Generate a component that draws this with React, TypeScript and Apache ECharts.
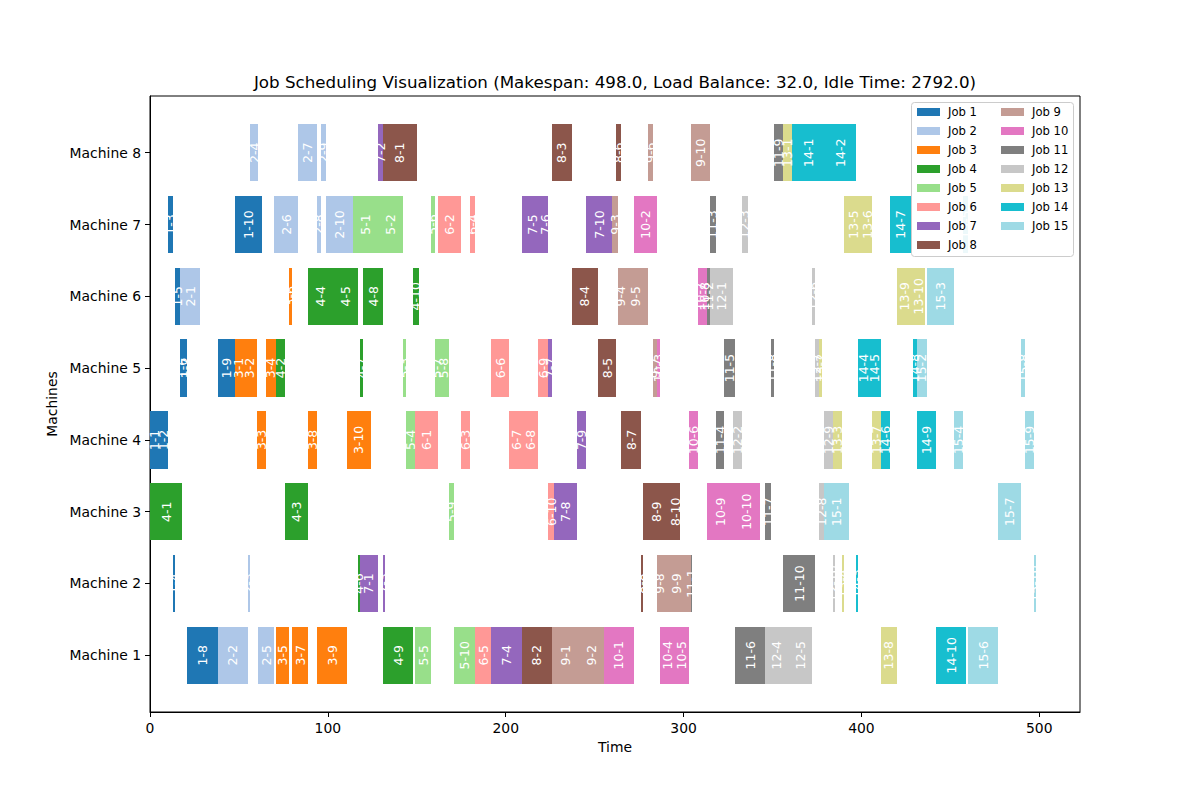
import React, { useEffect, useRef } from 'react';
import * as echarts from 'echarts';

const machineLabels = ['Machine 1', 'Machine 2', 'Machine 3', 'Machine 4', 'Machine 5', 'Machine 6', 'Machine 7', 'Machine 8'];
const jobNames = ['Job 1', 'Job 2', 'Job 3', 'Job 4', 'Job 5', 'Job 6', 'Job 7', 'Job 8', 'Job 9', 'Job 10', 'Job 11', 'Job 12', 'Job 13', 'Job 14', 'Job 15'];
const jobColors = ['#1f77b4', '#aec7e8', '#ff7f0e', '#2ca02c', '#98df8a', '#ff9896', '#9467bd', '#8c564b', '#c49c94', '#e377c2', '#7f7f7f', '#c7c7c7', '#dbdb8d', '#17becf', '#9edae5'];
const xTicks = [0, 100, 200, 300, 400, 500];
const yTicks = [0, 1, 2, 3, 4, 5, 6, 7];
const titleText = 'Job Scheduling Visualization (Makespan: 498.0, Load Balance: 32.0, Idle Time: 2792.0)';

// each operation: [machine, start, end]
type Op = [number, number, number];
const job1: Op[] = [[4, 0, 5], [4, 5, 10], [7, 10, 13], [2, 13, 14], [6, 14, 17], [5, 17, 19], [5, 19, 21], [1, 21, 38], [5, 38, 48], [7, 48, 63]];
const job2: Op[] = [[6, 17, 28], [1, 38, 55], [2, 55, 56], [8, 56, 61], [1, 61, 70], [7, 70, 83], [8, 83, 94], [7, 94, 96], [8, 96, 99], [7, 99, 114]];
const job3: Op[] = [[5, 48, 52], [5, 52, 60], [4, 60, 65], [5, 65, 71], [1, 71, 78], [6, 78, 80], [1, 80, 89], [4, 89, 94], [1, 94, 111], [4, 111, 124]];
const job4: Op[] = [[3, 0, 18], [5, 71, 76], [3, 76, 89], [6, 89, 103], [6, 103, 117], [2, 117, 118], [5, 118, 120], [6, 120, 131], [1, 131, 148], [6, 148, 151]];
const job5: Op[] = [[7, 114, 128], [7, 128, 142], [5, 142, 144], [4, 144, 149], [1, 149, 158], [7, 158, 160], [5, 160, 162], [5, 162, 168], [3, 168, 171], [1, 171, 183]];
const job6: Op[] = [[4, 149, 162], [7, 162, 175], [4, 175, 180], [7, 180, 183], [1, 183, 192], [5, 192, 202], [4, 202, 210], [4, 210, 218], [5, 218, 224], [3, 224, 227]];
const job7: Op[] = [[2, 118, 128], [8, 128, 131], [2, 131, 132], [1, 192, 209], [7, 209, 221], [7, 221, 224], [5, 224, 226], [3, 227, 240], [4, 240, 245], [7, 245, 260]];
const job8: Op[] = [[8, 131, 150], [1, 209, 226], [8, 226, 237], [6, 237, 252], [5, 252, 262], [8, 262, 265], [4, 265, 276], [2, 276, 277], [3, 277, 293], [3, 293, 298]];
const job9: Op[] = [[1, 226, 241], [1, 241, 255], [7, 260, 263], [6, 263, 266], [6, 266, 280], [8, 280, 283], [5, 283, 285], [2, 285, 288], [2, 288, 304], [8, 304, 315]];
const job10: Op[] = [[1, 255, 272], [7, 272, 285], [5, 285, 287], [1, 287, 295], [1, 295, 303], [4, 303, 308], [6, 308, 310], [6, 310, 313], [3, 313, 328], [3, 328, 343]];
const job11: Op[] = [[2, 304, 305], [6, 313, 315], [7, 315, 318], [4, 318, 323], [5, 323, 329], [1, 329, 346], [3, 346, 349], [5, 349, 351], [8, 351, 356], [2, 356, 374]];
const job12: Op[] = [[6, 315, 328], [4, 328, 333], [7, 333, 336], [1, 346, 359], [1, 359, 372], [6, 372, 374], [5, 374, 376], [3, 376, 379], [4, 379, 384], [2, 384, 385]];
const job13: Op[] = [[8, 356, 361], [5, 376, 378], [4, 384, 389], [2, 389, 390], [7, 390, 401], [7, 401, 406], [4, 406, 411], [1, 411, 420], [6, 420, 428], [6, 428, 436]];
const job14: Op[] = [[8, 361, 379], [8, 379, 397], [2, 397, 398], [5, 398, 404], [5, 404, 411], [4, 411, 416], [7, 416, 428], [5, 429, 431], [4, 431, 442], [1, 442, 459]];
const job15: Op[] = [[3, 379, 393], [5, 431, 437], [6, 437, 452], [4, 452, 457], [7, 457, 460], [1, 460, 477], [3, 477, 490], [5, 490, 492], [4, 492, 497], [2, 497, 498]];
const jobs = [job1, job2, job3, job4, job5, job6, job7, job8, job9, job10, job11, job12, job13, job14, job15];

const FONT = 'DejaVu Sans';

export default function App() {
  const ref = useRef<HTMLDivElement>(null);
  useEffect(() => {
    document.body.style.margin = '0';
    const chart = echarts.init(ref.current!, null, { renderer: 'svg' });
    const series = jobs.map((ops, j) => ({
      type: 'custom',
      name: jobNames[j],
      color: jobColors[j],
      itemStyle: { color: jobColors[j] },
      clip: false,
      encode: { x: [1, 2], y: 0 },
      data: ops.map((op) => [op[0] - 1, op[1], op[2]]),
      renderItem: (params: any, api: any) => {
        const y = api.value(0);
        const s = api.value(1);
        const e = api.value(2);
        const a = api.coord([s, y]);
        const b = api.coord([e, y]);
        const h = api.size([0, 0.8])[1];
        const x0 = Math.round(a[0]);
        const x1 = Math.max(Math.round(b[0]), x0 + 1);
        const y0 = Math.round(a[1] - h / 2);
        const y1 = Math.round(a[1] + h / 2);
        return {
          type: 'group',
          children: [
            {
              type: 'rect',
              shape: { x: x0, y: y0, width: x1 - x0, height: y1 - y0 },
              style: { fill: jobColors[j], stroke: 'none', lineWidth: 0 },
            },
            {
              type: 'text',
              x: (a[0] + b[0]) / 2,
              y: a[1],
              rotation: Math.PI / 2,
              z2: 100,
              style: {
                text: `${j + 1}-${params.dataIndex + 1}`,
                fill: '#ffffff',
                fontSize: 12.5,
                fontFamily: FONT,
                align: 'center',
                verticalAlign: 'middle',
              },
            },
          ],
        };
      },
    }));
    const legendCommon = {
      orient: 'vertical',
      top: 105,
      padding: 0,
      itemGap: 5,
      itemWidth: 23,
      itemHeight: 8,
      icon: 'rect',
      selectedMode: false,
      textStyle: { fontFamily: FONT, fontSize: 11.6, color: '#000', lineHeight: 14, padding: [0, 0, 0, 3] },
      z: 5,
    };
    chart.setOption({
      animation: false,
      textStyle: { fontFamily: FONT },
      grid: { left: 150, right: 120, top: 96, bottom: 88, show: true, borderColor: '#000', borderWidth: 1, backgroundColor: 'transparent' },
      xAxis: {
        type: 'value',
        min: 0,
        max: 522.9,
        interval: 100,
        name: 'Time',
        nameLocation: 'middle',
        nameGap: 28,
        nameTextStyle: { fontFamily: FONT, fontSize: 13.9, color: '#000' },
        axisLine: { show: true, onZero: false, lineStyle: { color: '#000', width: 1 } },
        axisTick: { show: true, length: 5, customValues: xTicks, lineStyle: { color: '#000' } },
        axisLabel: {
          customValues: xTicks,
          margin: 9,
          fontFamily: FONT,
          fontSize: 13.9,
          color: '#000',
          formatter: (v: number) => (xTicks.includes(v) ? String(v) : ''),
        },
        splitLine: { show: false },
      },
      yAxis: {
        type: 'value',
        min: -0.79,
        max: 7.79,
        name: 'Machines',
        nameLocation: 'middle',
        nameGap: 80,
        nameTextStyle: { fontFamily: FONT, fontSize: 13.9, color: '#000' },
        axisLine: { show: true, onZero: false, lineStyle: { color: '#000', width: 1 } },
        axisTick: { show: true, length: 5, customValues: yTicks, lineStyle: { color: '#000' } },
        axisLabel: {
          customValues: yTicks,
          margin: 9,
          fontFamily: FONT,
          fontSize: 13.9,
          color: '#000',
          formatter: (v: number) => (yTicks.includes(v) ? machineLabels[v] : ''),
        },
        splitLine: { show: false },
      },
      legend: [
        { ...legendCommon, left: 917, data: jobNames.slice(0, 8) },
        { ...legendCommon, left: 1001, data: jobNames.slice(8) },
      ],
      graphic: [
        {
          type: 'rect',
          z: 3,
          shape: { x: 911.5, y: 102.5, width: 162, height: 154, r: 3 },
          style: { fill: 'rgba(255,255,255,0.8)', stroke: '#cccccc', lineWidth: 1 },
        },
        {
          type: 'text',
          x: 615,
          y: 90,
          style: { text: titleText, fontFamily: FONT, fontSize: 16.7, fill: '#000', align: 'center', verticalAlign: 'bottom' },
        },
      ],
      series,
    });
    return () => chart.dispose();
  }, []);
  return <div ref={ref} style={{ position: 'absolute', left: 0, top: 0, width: 1200, height: 800 }} />;
}
